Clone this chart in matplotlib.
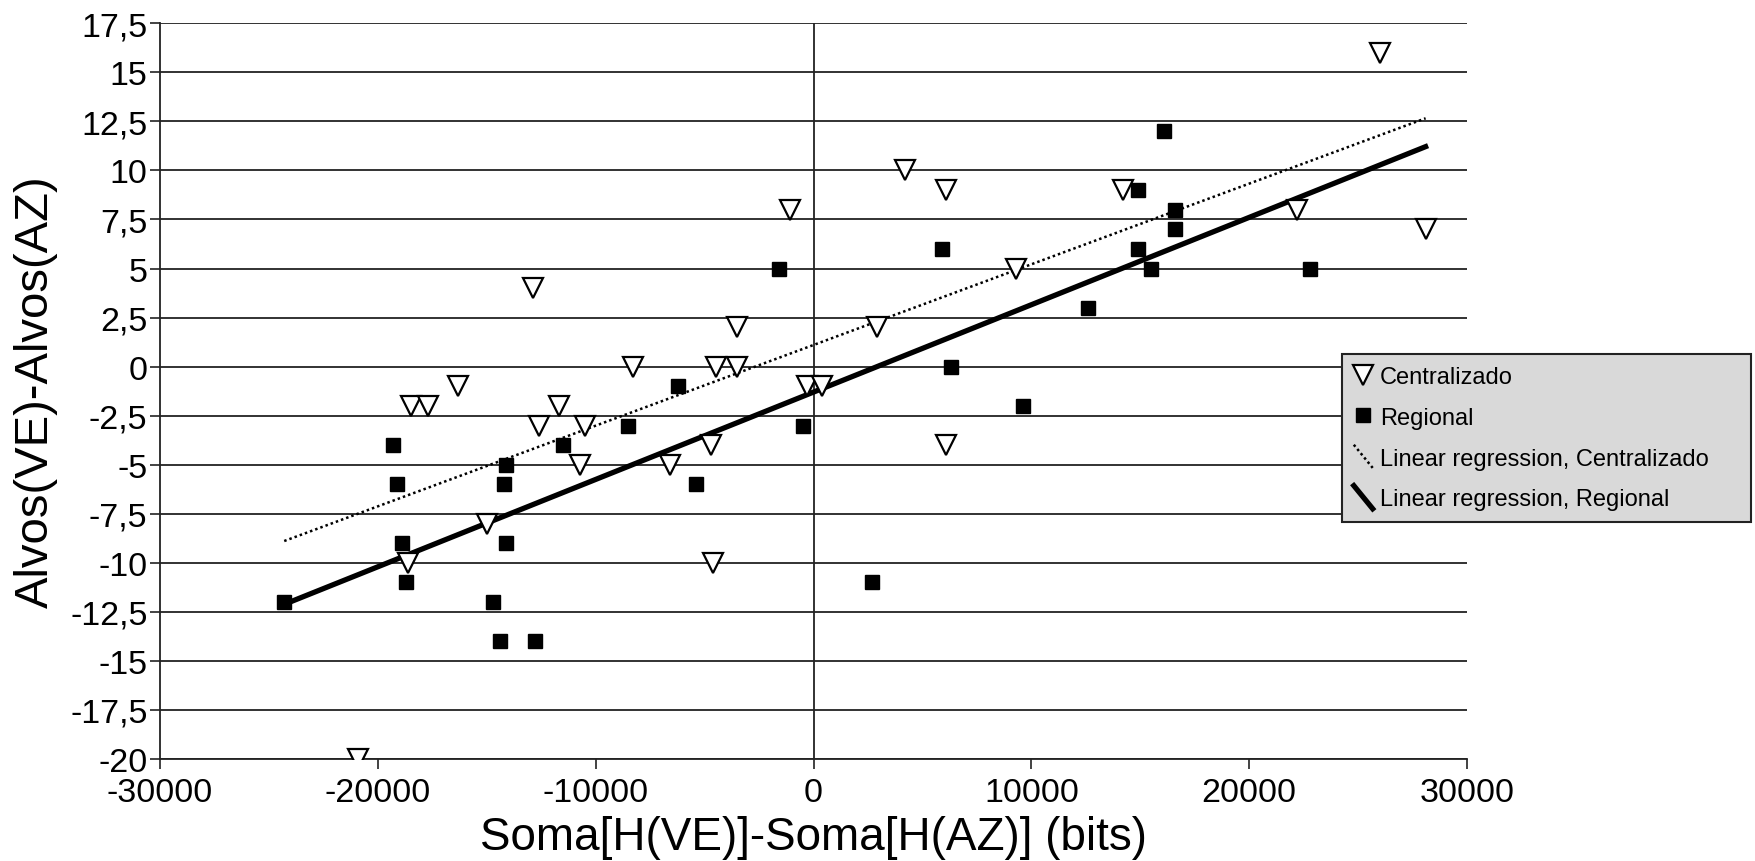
import matplotlib
matplotlib.use("Agg")
import matplotlib.pyplot as plt
import numpy as np
from matplotlib.legend_handler import HandlerBase
from matplotlib.lines import Line2D

plt.rcParams["font.family"] = ["Liberation Sans", "DejaVu Sans"]

# Centralizado (triangulos)
cent_x = [-20900, -18600, -15000, -18500, -17700, -16300, -12900, -12600, -11700,
          -10700, -10500, -8300, -6600, -4700, -4600, -4500, -3500, -3500, -1100,
          -300, 400, 2900, 4200, 6100, 6100, 9300, 14200, 22200, 26000, 28100]
cent_y = [-20, -10, -8, -2, -2, -1, 4, -3, -2,
          -5, -3, 0, -5, -4, -10, 0, 0, 2, 8,
          -1, -1, 2, 10, 9, -4, 5, 9, 8, 16, 7]

# Regional (quadrados)
reg_x = [-24300, -19300, -19100, -18900, -18700, -14700, -14400, -14100, -14200,
         -14100, -12800, -11500, -8500, -6200, -5400, -1600, -500, 2700, 5900,
         6300, 9600, 12600, 14900, 14900, 15500, 16100, 16600, 16600, 22800]
reg_y = [-12, -4, -6, -9, -11, -12, -14, -5, -6,
         -9, -14, -4, -3, -1, -6, 5, -3, -11, 6,
         0, -2, 3, 9, 6, 5, 12, 8, 7, 5]

x_ticks = [-30000, -20000, -10000, 0, 10000, 20000, 30000]
y_ticks = [-20, -17.5, -15, -12.5, -10, -7.5, -5, -2.5, 0, 2.5, 5, 7.5, 10, 12.5, 15, 17.5]


class HandlerDiagonal(HandlerBase):
    # linha diagonal na legenda, como no grafico original
    def create_artists(self, legend, orig_handle, xdescent, ydescent,
                       width, height, fontsize, trans):
        line = Line2D([-xdescent, -xdescent + width],
                      [-ydescent + height * 1.2, -ydescent - height * 0.2])
        self.update_prop(line, orig_handle, legend)
        line.set_transform(trans)
        return [line]


fig = plt.figure(figsize=(17.55, 8.62), dpi=100)
ax = fig.add_axes([0.0912, 0.1183, 0.7447, 0.8535])

ax.set_xlim(-30000, 30000)
ax.set_ylim(-20, 17.5)

for yv in y_ticks:
    ax.axhline(yv, color="#222222", lw=1.3, zorder=1)
ax.axvline(0, color="#222222", lw=1.3, zorder=1)

# retas de regressao sobre o intervalo total dos dados
x_all = np.array(cent_x + reg_x)
xr = np.array([x_all.min(), x_all.max()])
p_c = np.polyfit(cent_x, cent_y, 1)
p_r = np.polyfit(reg_x, reg_y, 1)

l_c, = ax.plot(xr, np.polyval(p_c, xr), color="black", lw=1.8, ls=(0, (1, 1.2)),
               zorder=3, label="Linear regression, Centralizado")
l_r, = ax.plot(xr, np.polyval(p_r, xr), color="black", lw=3.8, zorder=3,
               label="Linear regression, Regional")

h_c, = ax.plot(cent_x, cent_y, ls="none", marker="v", ms=14.5, mfc="white",
               mec="black", mew=1.6, zorder=4, label="Centralizado")
h_r, = ax.plot(reg_x, reg_y, ls="none", marker="s", ms=9.5, mfc="black",
               mec="black", zorder=4, label="Regional")

ax.set_xticks(x_ticks)
ax.set_xticklabels([str(v) for v in x_ticks])
ax.set_yticks(y_ticks)
ax.set_yticklabels([f"{v:g}".replace(".", ",") for v in y_ticks])
ax.tick_params(axis="both", labelsize=24.5, direction="out", length=7,
               width=1.2, color="#222222")
ax.tick_params(axis="y", pad=2)
ax.tick_params(axis="x", pad=6)

for s in ("top", "right"):
    ax.spines[s].set_visible(False)
for s in ("left", "bottom"):
    ax.spines[s].set_linewidth(1.3)
    ax.spines[s].set_color("#222222")

ax.set_xlabel("Soma[H(VE)]-Soma[H(AZ)] (bits)", fontsize=33, labelpad=5)
ax.set_ylabel("Alvos(VE)-Alvos(AZ)", fontsize=34, labelpad=9)

handles = [h_c, h_r, l_c, l_r]
x0, y0 = 1342 / 1755, 1 - 526 / 862
leg = fig.legend(handles, [h.get_label() for h in handles],
                 loc="upper left", mode="expand",
                 bbox_to_anchor=(x0, y0, 1751 / 1755 - x0, 171 / 862),
                 fontsize=17, frameon=True, fancybox=False, framealpha=1,
                 facecolor="#d9d9d9", edgecolor="#222222",
                 handlelength=0.8, handletextpad=0.3, labelspacing=0.8,
                 borderpad=0.5, borderaxespad=0,
                 handler_map={l_c: HandlerDiagonal(), l_r: HandlerDiagonal()})
leg.get_frame().set_linewidth(1.5)
leg.set_zorder(10)

fig.savefig("out.png", dpi=100)
